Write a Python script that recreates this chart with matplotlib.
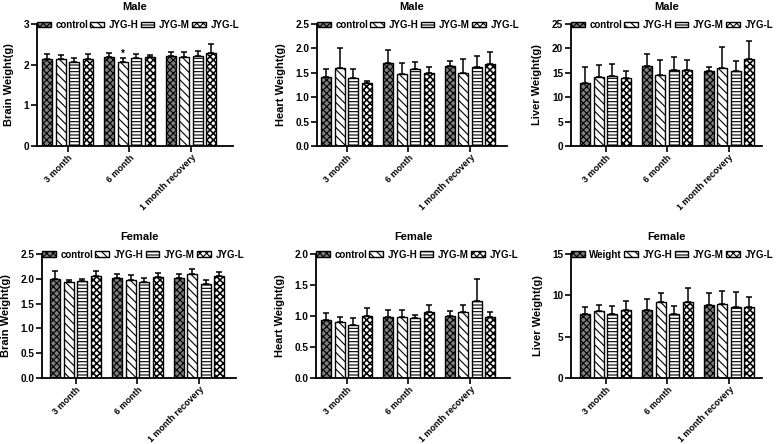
import matplotlib
matplotlib.use("Agg")
import matplotlib.pyplot as plt
import numpy as np

plt.rcParams['font.family'] = ['Liberation Sans', 'DejaVu Sans']
plt.rcParams['font.weight'] = 'bold'
plt.rcParams['hatch.linewidth'] = 0.8

groups = ["3 month", "6 month", "1 month recovery"]
series = ["control", "JYG-H", "JYG-M", "JYG-L"]
series_female_liver = ["Weight", "JYG-H", "JYG-M", "JYG-L"]

# values: one list per series, one value per group
male_brain_mean = [[2.15, 2.19, 2.21], [2.13, 2.06, 2.18], [2.07, 2.16, 2.21], [2.13, 2.19, 2.29]]
male_brain_err = [[0.10, 0.10, 0.09], [0.11, 0.11, 0.12], [0.09, 0.09, 0.13], [0.14, 0.05, 0.23]]

male_heart_mean = [[1.42, 1.71, 1.64], [1.60, 1.48, 1.50], [1.39, 1.57, 1.61], [1.29, 1.49, 1.69]]
male_heart_err = [[0.15, 0.26, 0.10], [0.41, 0.23, 0.29], [0.19, 0.16, 0.23], [0.05, 0.12, 0.23]]

male_liver_mean = [[12.9, 16.4, 15.3], [14.2, 14.6, 16.0], [14.4, 15.5, 15.3], [14.0, 15.5, 17.8]]
male_liver_err = [[3.2, 2.4, 0.8], [2.5, 3.1, 4.3], [2.4, 2.7, 2.2], [1.3, 2.2, 3.8]]

female_brain_mean = [[2.00, 2.02, 2.02], [1.93, 1.97, 2.09], [1.96, 1.94, 1.89], [2.05, 2.03, 2.06]]
female_brain_err = [[0.15, 0.08, 0.07], [0.05, 0.10, 0.10], [0.04, 0.07, 0.09], [0.10, 0.09, 0.08]]

female_heart_mean = [[0.94, 0.99, 1.00], [0.91, 0.99, 1.06], [0.86, 0.96, 1.24], [1.00, 1.06, 0.99]]
female_heart_err = [[0.11, 0.11, 0.08], [0.08, 0.11, 0.11], [0.10, 0.06, 0.36], [0.13, 0.12, 0.08]]

female_liver_mean = [[7.7, 8.2, 8.8], [8.1, 9.15, 8.95], [7.7, 7.7, 8.63], [8.2, 9.2, 8.63]]
female_liver_err = [[0.85, 1.4, 1.5], [0.7, 1.1, 1.55], [0.97, 0.97, 1.8], [1.1, 1.65, 1.2]]

# styles
faces = ['#7f7f7f', 'white', 'white', 'white']
hatches = ['xxxxx', '\\\\\\\\', '-----', 'xxxxx']
hatch_lw = [0.8, 0.8, 0.8, 1.15]

W, H = 778, 444
fig = plt.figure(figsize=(W / 100, H / 100), dpi=100)

SPACING = 61.7  # pixels per group


def add_axes(left, right, top, bottom):
    return fig.add_axes([left / W, 1 - bottom / H, (right - left) / W, (bottom - top) / H])


panels = [
    (37, 233, 24, 146, 67.7, "Male", "Brain Weight(g)", male_brain_mean, male_brain_err, 3, [0, 1, 2, 3], "{:.0f}", series),
    (317, 507, 24, 146, 346.7, "Male", "Heart Weight(g)", male_heart_mean, male_heart_err, 2.5, [0, 0.5, 1, 1.5, 2, 2.5], "{:.1f}", series),
    (571, 762, 24, 146, 605.5, "Male", "Liver Weight(g)", male_liver_mean, male_liver_err, 25, [0, 5, 10, 15, 20, 25], "{:.0f}", series),
    (42, 236, 254, 378, 75.7, "Female", "Brain Weight(g)", female_brain_mean, female_brain_err, 2.5, [0, 0.5, 1, 1.5, 2, 2.5], "{:.1f}", series),
    (316, 510, 254, 378, 346.7, "Female", "Heart Weight(g)", female_heart_mean, female_heart_err, 2.0, [0, 0.5, 1, 1.5, 2], "{:.1f}", series),
    (571, 762, 254, 378, 605.7, "Female", "Liver Weight(g)", female_liver_mean, female_liver_err, 15, [0, 5, 10, 15], "{:.0f}", series_female_liver),
]

x = np.arange(len(groups))
step = 13.5 / SPACING
bw = 10.0 / SPACING

for idx, (l, r, t, b, t0, title, ylab, means, errs, ymax, yt, fmt, labels) in enumerate(panels):
    ax = add_axes(l, r, t, b)
    handles = []
    for i in range(4):
        with plt.rc_context({'hatch.linewidth': hatch_lw[i]}):
            m = np.array(means[i])
            e = np.array(errs[i])
            bars = ax.bar(x + (i - 1.5) * step, m, bw, color=faces[i], edgecolor='black',
                          hatch=hatches[i], linewidth=1.0, label=labels[i], zorder=2)
            ax.errorbar(x + (i - 1.5) * step, m, yerr=[np.zeros_like(e), e], fmt='none',
                        ecolor='black', elinewidth=1.1, capsize=2.5, capthick=1.1, zorder=3)
        handles.append(bars)
    if idx == 0:
        ax.text(x[1] + (1 - 1.5) * step, means[1][1] + errs[1][1] - 0.02, "*",
                ha='center', va='bottom', fontsize=7, fontweight='bold')
    ax.set_xlim((l - t0) / SPACING, (r - t0) / SPACING)
    ax.set_ylim(0, ymax)
    ax.set_yticks(yt)
    ax.set_yticklabels([fmt.format(v) for v in yt], fontsize=7.2, fontweight='bold')
    ax.set_xticks(x)
    ax.set_xticklabels(groups, rotation=45, ha='right', va='top', rotation_mode='anchor',
                       fontsize=6.4, fontweight='bold')
    for s in ['top', 'right']:
        ax.spines[s].set_visible(False)
    for s in ['left', 'bottom']:
        ax.spines[s].set_linewidth(1.3)
    ax.tick_params(axis='both', length=4, width=1.2, pad=1.5)
    ax.tick_params(axis='x', pad=1)
    ax.set_title(title, fontsize=8, fontweight='bold', pad=10)
    ax.set_ylabel(ylab, fontsize=8, fontweight='bold', labelpad=7)
    leg = ax.legend(handles=handles, loc='upper left', bbox_to_anchor=(0.0, 1.035), ncol=4,
                    frameon=False, fontsize=7, handlelength=1.4, handleheight=0.5,
                    handletextpad=0.5, columnspacing=0.22, borderpad=0, borderaxespad=0)
    for txt in leg.get_texts():
        txt.set_fontweight('bold')
    leg.set_clip_on(False)

fig.savefig("out.png", dpi=100)
